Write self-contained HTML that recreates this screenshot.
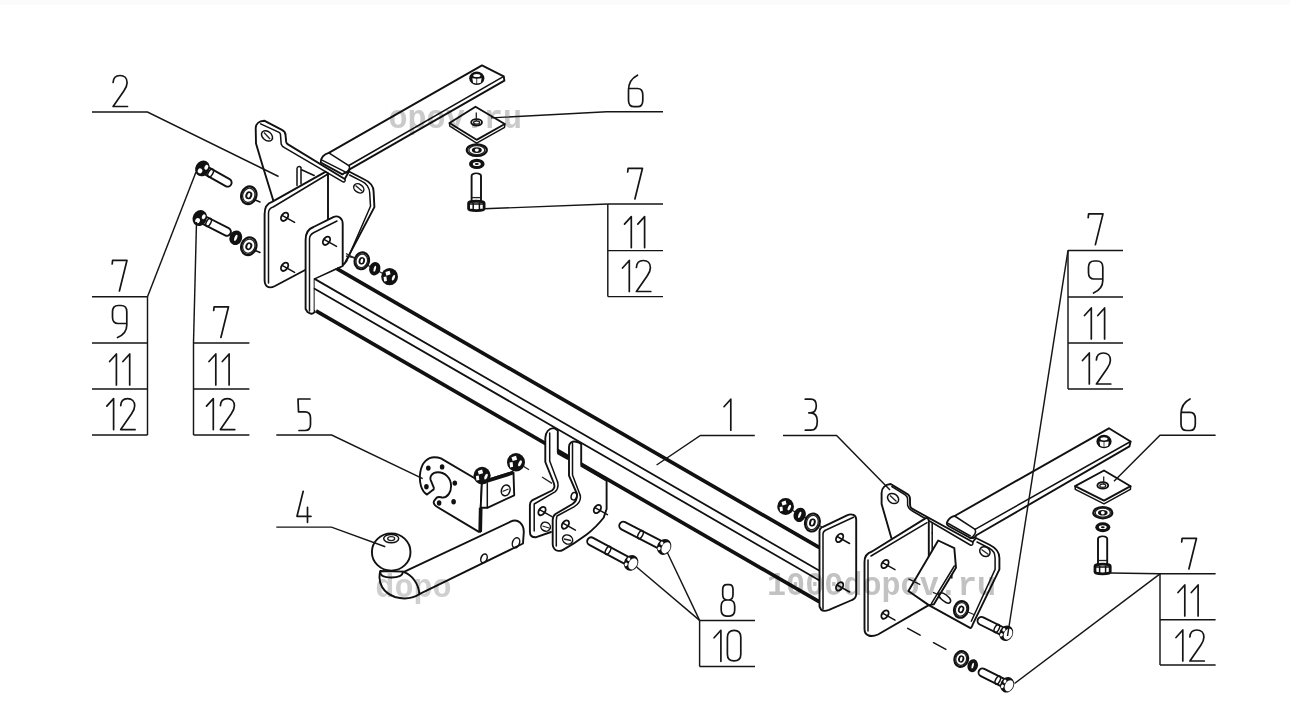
<!DOCTYPE html>
<html><head><meta charset="utf-8"><style>
html,body{margin:0;padding:0;background:#fff;}
body{width:1290px;height:705px;overflow:hidden;position:relative;font-family:"Liberation Sans",sans-serif;}
.top{position:absolute;left:0;top:0;width:1290px;height:5px;background:#fbfbfb;}
svg{position:absolute;left:0;top:0;}
.t{fill:none;stroke:#151515;stroke-width:1.7;stroke-linecap:round;stroke-linejoin:round;}
.l{fill:none;stroke:#151515;stroke-width:1.45;stroke-linejoin:miter;}
.k{fill:none;stroke:#111;stroke-width:1.9;stroke-linejoin:round;stroke-linecap:round;}
.kf{fill:#fff;stroke:#111;stroke-width:1.9;stroke-linejoin:round;stroke-linecap:round;}
.m{fill:none;stroke:#111;stroke-width:1.5;stroke-linejoin:round;stroke-linecap:round;}
.th{fill:none;stroke:#222;stroke-width:1.3;}
.b{stroke-width:2.2;}
.bb{stroke-width:2.8;}
.t18{stroke-width:1.8;}
.wf{fill:#fff;stroke:none;}
.bk{fill:none;stroke:#111;stroke-width:3.7;stroke-linecap:butt;}
.dot{fill:#111;stroke:none;}
.wm{font-family:"Liberation Mono",monospace;font-weight:bold;font-size:34px;fill:#c2c2c2;mix-blend-mode:multiply;}
</style></head><body><div class="top"></div>
<svg width="1290" height="705" viewBox="0 0 1290 705">
<path d="M256,143.4 L255.7,128 C255.7,124 259,121 264.2,120.7 L281.9,129.9 C284,131 285.5,133 285.5,134.9 L286.2,141.9 C286.5,143 287,143.8 287.6,144.1 L344.7,179 L349,171.5 L363.5,179 C369,181.5 373.6,186 373.6,191.5 L374.4,207.1 L344.8,263.2 L343.2,264.7 L273.6,201.5 L262.4,165 Z" class="kf"/>
<path d="M260.6,123.9 L279.1,132.4 C280,133 280.5,134 280.5,134.9 L281.2,144.1 C282,146 283,147 284,147.3 L343,181.8 C344.5,182.3 346,181 344.7,179" class="m"/>
<path d="M349.6,175 L362,181.4 C366,183 369.7,188 369.7,193 L370.5,206.3 L346.4,261.6" class="m"/>
<ellipse cx="267.0" cy="135.9" rx="6.2" ry="4.4" transform="rotate(40 267.0 135.9)" class="m"/>
<path d="M264.0,132.5 L270.0,139.0" class="th"/>
<ellipse cx="358.8" cy="188.4" rx="5.5" ry="4.0" transform="rotate(35 358.8 188.4)" class="m"/>
<path d="M355.5,185.5 L362.0,191.0" class="th"/>
<path d="M297,185.5 L297,168.5 C297.3,166.5 299.5,165.8 301,167.5 L301,184 M301,169.5 L314.2,175.5" class="m"/>
<path d="M264.6,214 C264.6,207 267.5,203.2 272,201.8 L325.4,171.8 L328,173.3 L328,222 L307,269 L275,286 C268,289.5 264.6,286 264.6,280 Z" class="kf"/>
<path d="M268.5,283 L268.5,213 C268.5,210 270,208 273.2,207 L328,174" class="m"/>
<ellipse cx="284.6" cy="216.8" rx="4.6" ry="3.0" transform="rotate(-55 284.6 216.8)" class="k"/>
<path d="M282.1,215.4 L294.6,222.4" class="m"/>
<ellipse cx="284.6" cy="266.8" rx="4.6" ry="3.0" transform="rotate(-55 284.6 266.8)" class="k"/>
<path d="M282.1,265.4 L294.6,272.4" class="m"/>
<path d="M328.8,152.8 L482,65.4 L503.7,76.3 L504.4,80.6 L349.6,169.4 C349,171.5 347,173 344.7,172.7 L342.4,174.4 L320.8,162.5 C320.5,158 324,154 328.8,152.8 Z" class="kf"/>
<path d="M348.9,165.5 L503.7,76.3" class="m"/>
<path d="M328.8,152.8 L349.2,165.9" class="m"/>
<path d="M322.0,160.2 L344.7,171.6" class="m"/>
<path d="M349.2,165.9 C350.5,168.5 348,172 344.7,172.7" class="m"/>
<ellipse cx="476.8" cy="78.2" rx="7.6" ry="6.8" transform="rotate(0 476.8 78.2)" class="dot"/>
<path d="M472.3,78.2 L476.4,78.8 L476.4,83.6 L473.1,82.7 Z" class="wf"/>
<path d="M477.2,78.8 L481.6,78.2 L480.8,82.7 L477.2,83.6 Z" class="wf"/>
<ellipse cx="476.8" cy="75.5" rx="3.6" ry="1.6" transform="rotate(0 476.8 75.5)" class="wf"/>
<path d="M305.6,240 C305.6,232 309,228.5 313.5,227 L333.3,217.1 C338,215 342.7,218 342.7,224 L342.7,266 L336.8,268.8 L314.6,280 L314.6,312 C313,314.5 310,314 307.5,312 L305.6,309 Z" class="kf"/>
<path d="M309.5,311 L309.5,239 C309.5,236 311,234 314,232.5 L337,221" class="m"/>
<ellipse cx="326.5" cy="240.8" rx="4.6" ry="3.0" transform="rotate(-55 326.5 240.8)" class="k"/>
<path d="M324.0,239.4 L336.5,246.4" class="m"/>
<path d="M346.0,253.5 L392.0,278.5" class="th"/>
<ellipse cx="361.8" cy="260.8" rx="7.1" ry="8.5" transform="rotate(15 361.8 260.8)" class="kf b"/>
<ellipse cx="361.8" cy="260.8" rx="5.7" ry="6.8" transform="rotate(15 361.8 260.8)" class="th"/>
<ellipse cx="361.8" cy="260.8" rx="3.2" ry="3.8" transform="rotate(15 361.8 260.8)" class="dot"/>
<ellipse cx="361.8" cy="260.8" rx="1.3" ry="2.3" transform="rotate(15 361.8 260.8)" class="wf"/>
<ellipse cx="374.8" cy="268.7" rx="5.6" ry="6.8" transform="rotate(15 374.8 268.7)" class="dot"/>
<ellipse cx="374.8" cy="268.7" rx="1.1" ry="3.1" transform="rotate(15 374.8 268.7)" class="wf"/>
<ellipse cx="389.6" cy="276.7" rx="8.4" ry="8.6" transform="rotate(0 389.6 276.7)" class="dot"/>
<path d="M385.4,272.1 L389.6,270.7 L390.6,274.3 L386.4,275.7 Z" class="wf"/>
<path d="M383.6,277.1 L386.4,276.5 L386.9,280.9 L384.1,281.6 Z" class="wf"/>
<ellipse cx="393.4" cy="277.7" rx="1.3" ry="3.0" transform="rotate(25 393.4 277.7)" class="wf"/>
<path d="M346.0,256.0 L356.0,258.0" class="th"/>
<path d="M202.6,173.1 L225.6,186.1 A4.0,4.0 0 0 0 229.6,179.1 L206.5,166.1 Z" class="kf"/>
<ellipse cx="210.6" cy="173.0" rx="2.2" ry="4.4" transform="rotate(29.427456403189762 210.6 173.0)" class="m"/>
<ellipse cx="202.4" cy="168.4" rx="7.0" ry="8.2" transform="rotate(29.427456403189762 202.4 168.4)" class="dot"/>
<ellipse cx="200.1" cy="170.9" rx="2.3" ry="2.5" transform="rotate(29.427456403189762 200.1 170.9)" class="wf"/>
<ellipse cx="206.3" cy="167.3" rx="1.8" ry="2.5" transform="rotate(29.427456403189762 206.3 167.3)" class="wf"/>
<path d="M200.2,222.7 L225.1,235.3 A4.0,4.0 0 0 0 228.7,228.1 L203.8,215.5 Z" class="kf"/>
<ellipse cx="208.6" cy="222.4" rx="2.2" ry="4.4" transform="rotate(26.878139752098672 208.6 222.4)" class="m"/>
<ellipse cx="199.8" cy="218.0" rx="7.0" ry="8.2" transform="rotate(26.878139752098672 199.8 218.0)" class="dot"/>
<ellipse cx="197.6" cy="220.6" rx="2.3" ry="2.5" transform="rotate(26.878139752098672 197.6 220.6)" class="wf"/>
<ellipse cx="203.7" cy="216.7" rx="1.8" ry="2.5" transform="rotate(26.878139752098672 203.7 216.7)" class="wf"/>
<ellipse cx="248.8" cy="195.3" rx="7.5" ry="9.0" transform="rotate(20 248.8 195.3)" class="kf b"/>
<ellipse cx="248.8" cy="195.3" rx="6.0" ry="7.2" transform="rotate(20 248.8 195.3)" class="th"/>
<ellipse cx="248.8" cy="195.3" rx="3.4" ry="4.0" transform="rotate(20 248.8 195.3)" class="dot"/>
<ellipse cx="248.8" cy="195.3" rx="1.4" ry="2.4" transform="rotate(20 248.8 195.3)" class="wf"/>
<path d="M254.0,199.5 L260.0,202.0" class="m"/>
<ellipse cx="235.8" cy="237.8" rx="6.3" ry="7.4" transform="rotate(20 235.8 237.8)" class="dot"/>
<ellipse cx="235.8" cy="237.8" rx="1.3" ry="3.3" transform="rotate(20 235.8 237.8)" class="wf"/>
<ellipse cx="248.8" cy="246.2" rx="7.5" ry="9.0" transform="rotate(20 248.8 246.2)" class="kf b"/>
<ellipse cx="248.8" cy="246.2" rx="6.0" ry="7.2" transform="rotate(20 248.8 246.2)" class="th"/>
<ellipse cx="248.8" cy="246.2" rx="3.4" ry="4.0" transform="rotate(20 248.8 246.2)" class="dot"/>
<ellipse cx="248.8" cy="246.2" rx="1.4" ry="2.4" transform="rotate(20 248.8 246.2)" class="wf"/>
<path d="M254.0,250.0 L260.0,252.5" class="m"/>
<path d="M449.5,123.0 L475.5,106.7 L504.8,124.0 L476.6,139.8 Z" class="kf"/>
<path d="M449.5,123.0 L449.8,126.2 L476.6,143.2 L504.6,127.3 L504.8,124.0" class="m"/>
<ellipse cx="476.6" cy="122.3" rx="5.4" ry="3.2" transform="rotate(0 476.6 122.3)" class="k"/>
<ellipse cx="476.6" cy="122.6" rx="3.0" ry="1.6" transform="rotate(0 476.6 122.6)" class="th"/>
<path d="M476.3,112.5 L476.3,121.0" class="th"/>
<ellipse cx="476.8" cy="150.1" rx="10.0" ry="5.8" transform="rotate(0 476.8 150.1)" class="kf b"/>
<ellipse cx="476.8" cy="150.1" rx="8.0" ry="4.6" transform="rotate(0 476.8 150.1)" class="th"/>
<ellipse cx="476.8" cy="150.1" rx="5.0" ry="2.9" transform="rotate(0 476.8 150.1)" class="dot"/>
<ellipse cx="476.8" cy="150.1" rx="2.0" ry="1.7" transform="rotate(0 476.8 150.1)" class="wf"/>
<ellipse cx="476.8" cy="163.9" rx="7.8" ry="5.2" transform="rotate(0 476.8 163.9)" class="dot"/>
<ellipse cx="476.8" cy="163.9" rx="4.0" ry="2.0" transform="rotate(0 476.8 163.9)" class="wf"/>
<ellipse cx="476.8" cy="163.9" rx="2.0" ry="1.0" transform="rotate(0 476.8 163.9)" class="dot"/>
<path d="M471.6,176.0 C471.6,172.5 481.0,172.5 481.0,176.0 L481.0,201.6 L471.6,201.6 Z" class="kf"/>
<ellipse cx="476.3" cy="175.7" rx="2.8" ry="1.5" transform="rotate(0 476.3 175.7)" class="wf"/>
<path d="M471.6,197.6 L481.0,197.6" class="th"/>
<path d="M468.6,203.1 C468.6,200.6 484.1,200.6 484.1,203.1 L484.1,208.8 C484.1,211.3 468.6,211.3 468.6,208.8 Z" class="kf bb"/>
<path d="M473.2,203.6 L473.2,210.3" class="m"/>
<path d="M479.4,203.6 L479.4,210.3" class="m"/>
<path d="M468.6,204.1 L484.1,204.1" class="m"/>
<path d="M314.6,278.9 L336.8,268.7 L819.5,547.7 L819.5,601.9 L314.6,310.1 Z" class="wf"/>
<path d="M314.6,278.9 L336.8,268.7" class="m"/>
<path d="M336.8,268.7 L819.5,547.7" class="bk"/>
<path d="M314.6,278.9 L819.5,570.7" class="m t18"/>
<path d="M314.6,288.7 L819.5,580.5" class="m t18"/>
<path d="M316.0,310.9 L819.5,601.9" class="bk"/>
<path d="M545.3,438.3 C545.3,432 549,428.5 553.1,428.1 C555,428.3 556.5,429.5 557.8,430.5 L557.8,452.3 L550,462 L557.6,482 C558.5,486 558,489.5 555,491.8 L551,520 L549.1,532.4 L535.6,537.3 C532,537.3 529.9,535 529.9,531.7 L529.9,505 C529.9,503 530.5,501.5 532,500.4 L552,490.5 C555,488 555,486 553.4,482 L545.3,462 Z" class="wf"/>
<path d="M557.8,452.3 L557.8,430.5 C556.5,429.5 555,428.3 553.1,428.1 C549,428.5 545.3,432 545.3,438.3 L545.3,462 L553.4,482 C555,486 555,488 552,490.5 L532,500.4 C530.5,501.5 529.9,503 529.9,505 L529.9,531.7 C529.9,535 532,537.3 535.6,537.3 L551,532" class="k"/>
<path d="M549.7,433.0 L549.7,461.0 L557.6,482.0" class="m"/>
<path d="M557.6,482 C558.5,486 558,489.5 555,491.8 L534.2,504 L534.2,531" class="m"/>
<ellipse cx="542.0" cy="511.1" rx="4.6" ry="3.0" transform="rotate(-55 542.0 511.1)" class="k"/>
<path d="M539.5,509.7 L552.0,516.7" class="m"/>
<ellipse cx="545.6" cy="526.7" rx="4.8" ry="4.4" transform="rotate(30 545.6 526.7)" class="m"/>
<path d="M542.5,526.0 L549.0,528.0" class="th"/>
<path d="M569,447 C569,443 572,441 576,441.7 C578.5,442 580.3,443 581.2,444 L581.2,465 L606.6,480.5 L606.6,509 C605,514 604,516 603.8,517.5 C597,526 590,532 586.7,534.5 C578,541 570,546 562.6,550.1 C560,551.5 556,551 554.5,549 C553,547 552.7,546 552.7,544.4 L552.7,520 C552.7,517 553.8,515.3 555.5,514 L572.5,504 C576,501.5 577.5,498 576.8,493.5 L569,475.6 Z" class="kf"/>
<path d="M572.5,443.5 L572.5,475.0 L580.3,495.5" class="m"/>
<path d="M580.3,495.5 C581,500 579,504 574,506.8 L557,516 C556.5,517.5 556.3,519 556.3,521 L556.3,546" class="m"/>
<ellipse cx="574.0" cy="496.2" rx="2.8" ry="3.8" transform="rotate(15 574.0 496.2)" class="m"/>
<ellipse cx="565.4" cy="524.6" rx="4.6" ry="3.0" transform="rotate(-55 565.4 524.6)" class="k"/>
<path d="M562.9,523.2 L575.4,530.2" class="m"/>
<ellipse cx="567.6" cy="539.5" rx="5.2" ry="4.4" transform="rotate(30 567.6 539.5)" class="m"/>
<path d="M564.0,539.0 L571.0,540.5" class="th"/>
<ellipse cx="597.4" cy="509.0" rx="4.6" ry="3.0" transform="rotate(-55 597.4 509.0)" class="k"/>
<path d="M594.9,507.6 L607.4,514.6" class="m"/>
<path d="M557.8,452.3 L568.5,458.4" class="bk"/>
<path d="M581.2,465.0 L606.6,479.7" class="bk"/>
<path d="M542.0,477.0 L552.0,483.4" class="th"/>
<path d="M663.8,542.2 L625.1,522.2 A4.0,4.0 0 0 0 621.4,529.3 L660.1,549.3 Z" class="kf"/>
<ellipse cx="640.5" cy="534.6" rx="2.2" ry="4.4" transform="rotate(-152.5885353564102 640.5 534.6)" class="m"/>
<ellipse cx="664.1" cy="546.9" rx="7.0" ry="8.2" transform="rotate(-152.5885353564102 664.1 546.9)" class="dot"/>
<ellipse cx="665.9" cy="547.8" rx="4.1" ry="5.9" transform="rotate(-152.5885353564102 665.9 547.8)" class="wf"/>
<ellipse cx="659.1" cy="548.5" rx="1.5" ry="1.8" transform="rotate(-152.5885353564102 659.1 548.5)" class="wf"/>
<ellipse cx="661.8" cy="543.4" rx="1.5" ry="1.8" transform="rotate(-152.5885353564102 661.8 543.4)" class="wf"/>
<path d="M630.8,558.2 L593.1,537.8 A4.0,4.0 0 0 0 589.3,544.9 L627.0,565.2 Z" class="kf"/>
<ellipse cx="608.0" cy="550.4" rx="2.2" ry="4.4" transform="rotate(-151.6098339540885 608.0 550.4)" class="m"/>
<ellipse cx="631.1" cy="562.9" rx="7.0" ry="8.2" transform="rotate(-151.6098339540885 631.1 562.9)" class="dot"/>
<ellipse cx="632.9" cy="563.9" rx="4.1" ry="5.9" transform="rotate(-151.6098339540885 632.9 563.9)" class="wf"/>
<ellipse cx="626.1" cy="564.4" rx="1.5" ry="1.8" transform="rotate(-151.6098339540885 626.1 564.4)" class="wf"/>
<ellipse cx="628.8" cy="559.3" rx="1.5" ry="1.8" transform="rotate(-151.6098339540885 628.8 559.3)" class="wf"/>
<path d="M421,486 C419.5,481 419.8,475 420.4,471.7 C422,462 428,457.2 434.3,457.2 C437,457.2 439,457.6 440.9,458.4 L481.9,482.5 L480.7,507.8 L480.2,531.9 L478.9,531.9 L436.5,506.5 C434,505 433,502.5 434.3,500.6 L436.7,497.6 C439,496 441,497.6 442.7,497.6 C448,497 451.1,492 451.1,486.1 C451.1,478 445,472.3 437.9,472.3 C432,472.3 429.5,476.5 430.7,480.1 L433.7,487.3 C434,489 433.5,490 433.1,489.8 L427,494.6 C424.5,493 422,489.5 421,486 Z" class="kf"/>
<ellipse cx="428.3" cy="468.1" rx="2.3" ry="2.7" transform="rotate(0 428.3 468.1)" class="dot"/>
<ellipse cx="442.1" cy="466.9" rx="2.3" ry="2.7" transform="rotate(0 442.1 466.9)" class="dot"/>
<ellipse cx="454.8" cy="483.1" rx="2.3" ry="2.7" transform="rotate(0 454.8 483.1)" class="dot"/>
<ellipse cx="453.6" cy="501.8" rx="2.3" ry="2.7" transform="rotate(0 453.6 501.8)" class="dot"/>
<ellipse cx="439.1" cy="503.0" rx="2.3" ry="2.7" transform="rotate(0 439.1 503.0)" class="dot"/>
<ellipse cx="426.4" cy="486.7" rx="2.3" ry="2.7" transform="rotate(0 426.4 486.7)" class="dot"/>
<path d="M481.9,482.5 L513.5,472.6" class="bk"/>
<path d="M481.9,482.5 L513.5,472.6 L514.2,495.3 L487.3,507.8 L480.7,507.8 Z" class="kf"/>
<path d="M481.9,482.5 L513.5,472.6" class="bk"/>
<path d="M487.3,483.0 L487.3,507.8" class="m"/>
<path d="M480.7,507.8 L480.2,531.9" class="bk"/>
<ellipse cx="505.7" cy="490.4" rx="4.2" ry="5.5" transform="rotate(20 505.7 490.4)" class="m"/>
<path d="M502.5,491.5 L508.5,489.0" class="th"/>
<ellipse cx="482.1" cy="475.6" rx="8.6" ry="8.8" transform="rotate(0 482.1 475.6)" class="dot"/>
<path d="M477.8,470.9 L482.1,469.4 L483.1,473.2 L478.8,474.6 Z" class="wf"/>
<path d="M475.9,476.0 L478.8,475.4 L479.3,479.9 L476.4,480.6 Z" class="wf"/>
<ellipse cx="486.0" cy="476.6" rx="1.4" ry="3.1" transform="rotate(25 486.0 476.6)" class="wf"/>
<ellipse cx="516.0" cy="462.2" rx="9.0" ry="9.2" transform="rotate(0 516.0 462.2)" class="dot"/>
<path d="M511.5,457.2 L516.0,455.7 L517.1,459.7 L512.6,461.1 Z" class="wf"/>
<path d="M509.5,462.6 L512.6,462.0 L513.1,466.7 L510.1,467.4 Z" class="wf"/>
<ellipse cx="520.0" cy="463.3" rx="1.4" ry="3.2" transform="rotate(25 520.0 463.3)" class="wf"/>
<path d="M523.0,466.0 L529.0,469.8" class="th"/>
<path d="M404.5,571.6 L510.5,521.7 C518,518 523.8,524 523.8,532 L523,543.5 L419.3,594.2 C410,600 402,599 395,597 C384,593 377,584 380.3,571 Z" class="kf"/>
<path d="M404.5,572.4 C412,575 419,584 419.3,594.2" class="k"/>
<ellipse cx="484.0" cy="558.4" rx="3.0" ry="4.6" transform="rotate(20 484.0 558.4)" class="m"/>
<ellipse cx="516.0" cy="542.8" rx="3.5" ry="5.2" transform="rotate(20 516.0 542.8)" class="m"/>
<path d="M380.3,571.6 C380,576 384,577.5 391.5,577.5 C398,577.5 403,576 402.9,571.6" class="k"/>
<ellipse cx="391.2" cy="552.0" rx="19.3" ry="18.6" transform="rotate(0 391.2 552.0)" class="kf"/>
<ellipse cx="391.2" cy="538.6" rx="7.5" ry="4.2" transform="rotate(0 391.2 538.6)" class="m"/>
<ellipse cx="391.2" cy="538.6" rx="3.5" ry="2.0" transform="rotate(0 391.2 538.6)" class="th"/>
<path d="M819.5,606.5 L819.5,531.5 C819.5,529 821,527.5 823,526.8 L847,515.3 C851.5,513.3 856.2,514.5 856.2,519.5 L856.2,594 C856.2,597 855,599 852,600 L829,609.8 C825.5,611.2 822.5,611 821,609.5 Z" class="kf"/>
<path d="M823,609 L823,534 C823,532 824.5,530.5 826.5,529.8 L853.5,517.3" class="m"/>
<ellipse cx="839.6" cy="537.9" rx="4.6" ry="3.0" transform="rotate(-55 839.6 537.9)" class="k"/>
<path d="M837.1,536.5 L849.6,543.5" class="m"/>
<ellipse cx="839.6" cy="586.4" rx="4.6" ry="3.0" transform="rotate(-55 839.6 586.4)" class="k"/>
<path d="M837.1,585.0 L849.6,592.0" class="m"/>
<path d="M780.0,503.5 L823.0,527.5" class="th"/>
<ellipse cx="785.6" cy="506.6" rx="8.3" ry="8.5" transform="rotate(0 785.6 506.6)" class="dot"/>
<path d="M781.5,502.0 L785.6,500.6 L786.6,504.3 L782.4,505.6 Z" class="wf"/>
<path d="M779.6,507.0 L782.4,506.4 L782.9,510.8 L780.1,511.4 Z" class="wf"/>
<ellipse cx="789.3" cy="507.6" rx="1.3" ry="3.0" transform="rotate(25 789.3 507.6)" class="wf"/>
<ellipse cx="799.7" cy="514.9" rx="6.0" ry="7.3" transform="rotate(20 799.7 514.9)" class="dot"/>
<ellipse cx="799.7" cy="514.9" rx="1.2" ry="3.3" transform="rotate(20 799.7 514.9)" class="wf"/>
<ellipse cx="812.4" cy="522.5" rx="7.3" ry="9.1" transform="rotate(15 812.4 522.5)" class="kf b"/>
<ellipse cx="812.4" cy="522.5" rx="5.8" ry="7.3" transform="rotate(15 812.4 522.5)" class="th"/>
<ellipse cx="812.4" cy="522.5" rx="3.3" ry="4.1" transform="rotate(15 812.4 522.5)" class="dot"/>
<ellipse cx="812.4" cy="522.5" rx="1.3" ry="2.5" transform="rotate(15 812.4 522.5)" class="wf"/>
<path d="M881.6,504 L881.6,493 C881.6,488 885,484.5 890.7,484 L905.8,493.1 C908.5,494.5 910,496.5 910,498.5 L910,502.7 C910,505 910.5,507.5 911.2,508.2 L972.7,542 L976,538 L990,545 C995,547.5 999.4,552 999.4,558 L999.4,569.4 L973,623.8 C972,627 971,628 970.5,628.1 L928.8,605.1 L891.3,537.7 Z" class="kf"/>
<path d="M891.9,486.5 L905.2,494.9 C906.5,496 907.6,497.5 907.6,499 L907.6,505.2 C908.5,508 910,510 912.4,511 L970.3,545 C972,546 973.5,544 972.7,542" class="m"/>
<path d="M977,542 L989,548 C993,550 995.1,554 995.1,558 L995.1,569.4 L971.3,621.3" class="m"/>
<ellipse cx="893.1" cy="498.5" rx="6.0" ry="4.6" transform="rotate(35 893.1 498.5)" class="m"/>
<path d="M890.0,495.5 L896.5,501.5" class="th"/>
<ellipse cx="984.9" cy="551.6" rx="5.5" ry="4.5" transform="rotate(35 984.9 551.6)" class="m"/>
<path d="M981.5,549.5 L988.5,554.5" class="th"/>
<path d="M932.2,532.9 L932.2,554.1" class="m"/>
<path d="M951.8,566.0 L951.8,578.0" class="m"/>
<path d="M864.5,562 C864.5,556.5 867,553 872,551.5 L925.4,518.4 C927,517.5 928.8,518.5 928.8,521 L928.8,605.1 L878,634.5 C871,637.5 864.5,636 864.5,629 Z" class="kf"/>
<path d="M868.0,560.0 L868.0,631.0" class="m"/>
<path d="M871.0,556.0 L927.0,522.7" class="m"/>
<ellipse cx="885.0" cy="564.0" rx="4.6" ry="3.0" transform="rotate(-55 885.0 564.0)" class="k"/>
<path d="M882.5,562.6 L895.0,569.6" class="m"/>
<ellipse cx="885.0" cy="614.6" rx="4.6" ry="3.0" transform="rotate(-55 885.0 614.6)" class="k"/>
<path d="M882.5,613.2 L895.0,620.2" class="m"/>
<path d="M932.2,523.5 L932.2,532.9" class="m"/>
<path d="M908.4,591 L938.2,540.5 L954.3,548.2 L956,567.7 L933.9,604.3 L928.8,605.1 Z" class="kf"/>
<path d="M954.3,566.0 L931.5,603.4" class="m"/>
<path d="M938.5,594 C941,591 946,594 949.5,598 C952,601.5 950,604.5 946,602.5 C943,601 938,597 938.5,594 Z" class="m"/>
<path d="M908.4,578.8 L920.3,584.7" class="th"/>
<path d="M933.0,592.4 L939.0,595.0" class="th"/>
<path d="M954.6,516 L1108.9,428.3 L1130.6,441.5 L1129.4,446.4 L976.3,535.3 C975.5,537 973.5,538.5 970.3,538 L948.5,526 C946.5,525 946.5,523 947.4,521.5 C949,518.5 951.5,516.5 954.6,516 Z" class="kf"/>
<path d="M975.1,529.3 L1130.6,441.5" class="m"/>
<path d="M954.6,516.0 L975.1,529.3" class="m"/>
<path d="M948.2,523.5 L970.3,536.0" class="m"/>
<path d="M975.1,529.3 C976.5,532 974.5,536.5 970.3,538" class="m"/>
<ellipse cx="1104.0" cy="441.5" rx="7.6" ry="6.8" transform="rotate(0 1104.0 441.5)" class="dot"/>
<path d="M1099.5,441.5 L1103.6,442.1 L1103.6,446.9 L1100.3,446.0 Z" class="wf"/>
<path d="M1104.4,442.1 L1108.8,441.5 L1108.0,446.0 L1104.4,446.9 Z" class="wf"/>
<ellipse cx="1104.0" cy="438.8" rx="3.6" ry="1.6" transform="rotate(0 1104.0 438.8)" class="wf"/>
<ellipse cx="961.1" cy="609.4" rx="7.0" ry="8.5" transform="rotate(20 961.1 609.4)" class="kf b"/>
<ellipse cx="961.1" cy="609.4" rx="5.6" ry="6.8" transform="rotate(20 961.1 609.4)" class="th"/>
<ellipse cx="961.1" cy="609.4" rx="3.1" ry="3.8" transform="rotate(20 961.1 609.4)" class="dot"/>
<ellipse cx="961.1" cy="609.4" rx="1.3" ry="2.3" transform="rotate(20 961.1 609.4)" class="wf"/>
<path d="M968.0,612.0 L975.0,615.0" class="th"/>
<path d="M1005.8,628.5 L983.3,617.3 A4.0,4.0 0 0 0 979.8,624.5 L1002.3,635.7 Z" class="kf"/>
<ellipse cx="996.8" cy="628.5" rx="2.2" ry="4.4" transform="rotate(-153.4349488229219 996.8 628.5)" class="m"/>
<ellipse cx="1006.2" cy="633.2" rx="6.8" ry="8.0" transform="rotate(-153.4349488229219 1006.2 633.2)" class="dot"/>
<ellipse cx="1008.0" cy="634.1" rx="4.0" ry="5.8" transform="rotate(-153.4349488229219 1008.0 634.1)" class="wf"/>
<ellipse cx="1001.4" cy="634.8" rx="1.4" ry="1.8" transform="rotate(-153.4349488229219 1001.4 634.8)" class="wf"/>
<ellipse cx="1003.9" cy="629.8" rx="1.4" ry="1.8" transform="rotate(-153.4349488229219 1003.9 629.8)" class="wf"/>
<ellipse cx="961.2" cy="659.0" rx="6.8" ry="8.0" transform="rotate(15 961.2 659.0)" class="kf b"/>
<ellipse cx="961.2" cy="659.0" rx="5.4" ry="6.4" transform="rotate(15 961.2 659.0)" class="th"/>
<ellipse cx="961.2" cy="659.0" rx="3.1" ry="3.6" transform="rotate(15 961.2 659.0)" class="dot"/>
<ellipse cx="961.2" cy="659.0" rx="1.2" ry="2.2" transform="rotate(15 961.2 659.0)" class="wf"/>
<ellipse cx="972.7" cy="665.7" rx="5.2" ry="6.6" transform="rotate(15 972.7 665.7)" class="dot"/>
<ellipse cx="972.7" cy="665.7" rx="1.0" ry="3.0" transform="rotate(15 972.7 665.7)" class="wf"/>
<path d="M1006.8,680.1 L984.3,668.9 A4.0,4.0 0 0 0 980.8,676.1 L1003.3,687.3 Z" class="kf"/>
<ellipse cx="997.8" cy="680.1" rx="2.2" ry="4.4" transform="rotate(-153.4349488229221 997.8 680.1)" class="m"/>
<ellipse cx="1007.2" cy="684.8" rx="6.8" ry="8.0" transform="rotate(-153.4349488229221 1007.2 684.8)" class="dot"/>
<ellipse cx="1009.0" cy="685.7" rx="4.0" ry="5.8" transform="rotate(-153.4349488229221 1009.0 685.7)" class="wf"/>
<ellipse cx="1002.4" cy="686.4" rx="1.4" ry="1.8" transform="rotate(-153.4349488229221 1002.4 686.4)" class="wf"/>
<ellipse cx="1004.9" cy="681.4" rx="1.4" ry="1.8" transform="rotate(-153.4349488229221 1004.9 681.4)" class="wf"/>
<path d="M907.7,628.4 L920.1,635.1" class="m"/>
<path d="M933.5,642.7 L945.9,649.4" class="m"/>
<path d="M1075.1,486.2 L1104.0,470.5 L1130.6,486.2 L1104.0,500.6 Z" class="kf"/>
<path d="M1075.1,486.2 L1075.3,489.4 L1104.0,503.8 L1130.4,489.4 L1130.6,486.2" class="m"/>
<ellipse cx="1102.8" cy="485.4" rx="5.4" ry="3.2" transform="rotate(0 1102.8 485.4)" class="k"/>
<ellipse cx="1102.8" cy="485.7" rx="3.0" ry="1.6" transform="rotate(0 1102.8 485.7)" class="th"/>
<path d="M1103.7,476.5 L1103.7,484.0" class="th"/>
<ellipse cx="1102.8" cy="512.7" rx="9.5" ry="5.6" transform="rotate(0 1102.8 512.7)" class="kf b"/>
<ellipse cx="1102.8" cy="512.7" rx="7.6" ry="4.5" transform="rotate(0 1102.8 512.7)" class="th"/>
<ellipse cx="1102.8" cy="512.7" rx="4.8" ry="2.8" transform="rotate(0 1102.8 512.7)" class="dot"/>
<ellipse cx="1102.8" cy="512.7" rx="1.9" ry="1.7" transform="rotate(0 1102.8 512.7)" class="wf"/>
<ellipse cx="1102.8" cy="527.2" rx="7.5" ry="5.0" transform="rotate(0 1102.8 527.2)" class="dot"/>
<ellipse cx="1102.8" cy="527.2" rx="3.9" ry="1.9" transform="rotate(0 1102.8 527.2)" class="wf"/>
<ellipse cx="1102.8" cy="527.2" rx="1.9" ry="1.0" transform="rotate(0 1102.8 527.2)" class="dot"/>
<path d="M1098.0,539.0 C1098.0,535.5 1107.2,535.5 1107.2,539.0 L1107.2,564.5 L1098.0,564.5 Z" class="kf"/>
<ellipse cx="1102.6" cy="538.7" rx="2.8" ry="1.5" transform="rotate(0 1102.6 538.7)" class="wf"/>
<path d="M1098.0,560.5 L1107.2,560.5" class="th"/>
<path d="M1095.0,566.0 C1095.0,563.5 1110.2,563.5 1110.2,566.0 L1110.2,572.0 C1110.2,574.5 1095.0,574.5 1095.0,572.0 Z" class="kf bb"/>
<path d="M1099.6,566.5 L1099.6,573.5" class="m"/>
<path d="M1105.6,566.5 L1105.6,573.5" class="m"/>
<path d="M1095.0,567.0 L1110.2,567.0" class="m"/>
<text x="767" y="595" class="wm" textLength="229" lengthAdjust="spacingAndGlyphs">1000dopov.ru</text>
<clipPath id="c1"><path d="M386,90 L540,90 L540,140 L386,140 Z"/></clipPath>
<text x="293" y="127.5" class="wm" style="fill:#cacaca" textLength="229" lengthAdjust="spacingAndGlyphs" clip-path="url(#c1)">1000dopov.ru</text>
<clipPath id="c2"><path d="M376,565 L452,565 L452,605 L376,605 Z"/></clipPath>
<text x="299" y="597" class="wm" style="fill:#cfcfcf" textLength="229" lengthAdjust="spacingAndGlyphs" clip-path="url(#c2)">1000dopov.ru</text>
<path transform="translate(112.5,75.5) scale(1.000)" d="M0.6,7 C0.8,2.5 3.5,0 7.5,0 C11.8,0 14.6,2.8 14.6,7.2 C14.6,10.5 13.3,12.6 11.5,15.2 L0.6,31 L15,31" class="t"/>
<path d="M92.0,112.0 L147.5,112.0 L278.6,176.5" class="l"/>
<path transform="translate(112.0,260.0) scale(1.000)" d="M0.2,4 L0.6,0.3 L15,0.3 L7.4,31" class="t"/>
<path transform="translate(112.5,305.5) scale(1.000)" d="M14.3,18 L5.5,18 C2,18 0,15.8 0,11.8 L0,6.3 C0,2.3 2,0 5.8,0 L8.5,0 C12.3,0 14.3,2.3 14.3,6.3 L14.3,19.5 C14.3,25.5 11,29.5 5,32" class="t"/>
<path transform="translate(109.6,354.0) scale(1.000)" d="M0,7.5 L6.8,0 L6.8,31" class="t"/>
<path transform="translate(122.9,354.0) scale(1.000)" d="M0,7.5 L6.8,0 L6.8,31" class="t"/>
<path transform="translate(106.8,398.6) scale(1.000)" d="M0,7.5 L6.8,0 L6.8,31" class="t"/>
<path transform="translate(120.1,398.6) scale(1.000)" d="M0.6,7 C0.8,2.5 3.5,0 7.5,0 C11.8,0 14.6,2.8 14.6,7.2 C14.6,10.5 13.3,12.6 11.5,15.2 L0.6,31 L15,31" class="t"/>
<path d="M92.0,296.7 L147.5,296.7" class="l"/>
<path d="M92.0,343.0 L147.5,343.0" class="l"/>
<path d="M92.0,389.0 L147.5,389.0" class="l"/>
<path d="M92.0,435.0 L147.5,435.0" class="l"/>
<path d="M147.5,296.7 L147.5,435.0" class="l"/>
<path d="M147.5,296.7 L196.0,172.0" class="l"/>
<path transform="translate(213.5,306.5) scale(1.000)" d="M0.2,4 L0.6,0.3 L15,0.3 L7.4,31" class="t"/>
<path transform="translate(209.0,354.0) scale(1.000)" d="M0,7.5 L6.8,0 L6.8,31" class="t"/>
<path transform="translate(222.3,354.0) scale(1.000)" d="M0,7.5 L6.8,0 L6.8,31" class="t"/>
<path transform="translate(206.5,398.6) scale(1.000)" d="M0,7.5 L6.8,0 L6.8,31" class="t"/>
<path transform="translate(219.8,398.6) scale(1.000)" d="M0.6,7 C0.8,2.5 3.5,0 7.5,0 C11.8,0 14.6,2.8 14.6,7.2 C14.6,10.5 13.3,12.6 11.5,15.2 L0.6,31 L15,31" class="t"/>
<path d="M193.5,343.0 L249.4,343.0" class="l"/>
<path d="M193.5,389.0 L249.4,389.0" class="l"/>
<path d="M193.5,435.0 L249.4,435.0" class="l"/>
<path d="M193.5,343.0 L193.5,435.0" class="l"/>
<path d="M193.5,343.0 L196.5,222.0" class="l"/>
<path transform="translate(628.5,75.2) scale(1.000)" d="M9,0 C3.5,2.8 0,8 0,15 L0,25 C0,29.3 2.2,31.5 5.8,31.5 L9,31.5 C12.6,31.5 14.3,29.3 14.3,25 L14.3,19.8 C14.3,15.6 12.6,13.3 9,13.3 L0,13.3" class="t"/>
<path d="M491.0,117.9 L606.8,111.7 L663.0,111.7" class="l"/>
<path transform="translate(627.5,168.0) scale(1.000)" d="M0.2,4 L0.6,0.3 L15,0.3 L7.4,31" class="t"/>
<path transform="translate(624.5,216.6) scale(1.000)" d="M0,7.5 L6.8,0 L6.8,31" class="t"/>
<path transform="translate(637.8,216.6) scale(1.000)" d="M0,7.5 L6.8,0 L6.8,31" class="t"/>
<path transform="translate(622.5,260.5) scale(1.000)" d="M0,7.5 L6.8,0 L6.8,31" class="t"/>
<path transform="translate(635.8,260.5) scale(1.000)" d="M0.6,7 C0.8,2.5 3.5,0 7.5,0 C11.8,0 14.6,2.8 14.6,7.2 C14.6,10.5 13.3,12.6 11.5,15.2 L0.6,31 L15,31" class="t"/>
<path d="M607.8,204.0 L663.0,204.0" class="l"/>
<path d="M607.8,250.6 L663.0,250.6" class="l"/>
<path d="M607.8,296.6 L663.0,296.6" class="l"/>
<path d="M607.8,204.0 L607.8,296.6" class="l"/>
<path d="M607.8,204.0 L484.0,208.8" class="l"/>
<path transform="translate(1088.0,213.6) scale(1.000)" d="M0.2,4 L0.6,0.3 L15,0.3 L7.4,31" class="t"/>
<path transform="translate(1088.5,261.0) scale(1.000)" d="M14.3,18 L5.5,18 C2,18 0,15.8 0,11.8 L0,6.3 C0,2.3 2,0 5.8,0 L8.5,0 C12.3,0 14.3,2.3 14.3,6.3 L14.3,19.5 C14.3,25.5 11,29.5 5,32" class="t"/>
<path transform="translate(1084.5,308.0) scale(1.000)" d="M0,7.5 L6.8,0 L6.8,31" class="t"/>
<path transform="translate(1097.8,308.0) scale(1.000)" d="M0,7.5 L6.8,0 L6.8,31" class="t"/>
<path transform="translate(1082.5,353.0) scale(1.000)" d="M0,7.5 L6.8,0 L6.8,31" class="t"/>
<path transform="translate(1095.8,353.0) scale(1.000)" d="M0.6,7 C0.8,2.5 3.5,0 7.5,0 C11.8,0 14.6,2.8 14.6,7.2 C14.6,10.5 13.3,12.6 11.5,15.2 L0.6,31 L15,31" class="t"/>
<path d="M1068.0,250.4 L1123.0,250.4" class="l"/>
<path d="M1068.0,297.0 L1123.0,297.0" class="l"/>
<path d="M1068.0,343.0 L1123.0,343.0" class="l"/>
<path d="M1068.0,389.0 L1123.0,389.0" class="l"/>
<path d="M1068.0,250.4 L1068.0,389.0" class="l"/>
<path d="M1068.0,250.4 L1007.5,636.0" class="l"/>
<path transform="translate(1181.0,399.0) scale(1.000)" d="M9,0 C3.5,2.8 0,8 0,15 L0,25 C0,29.3 2.2,31.5 5.8,31.5 L9,31.5 C12.6,31.5 14.3,29.3 14.3,25 L14.3,19.8 C14.3,15.6 12.6,13.3 9,13.3 L0,13.3" class="t"/>
<path d="M1114.0,481.3 L1160.0,435.2 L1215.6,435.2" class="l"/>
<path transform="translate(1181.5,538.0) scale(1.000)" d="M0.2,4 L0.6,0.3 L15,0.3 L7.4,31" class="t"/>
<path transform="translate(1178.0,585.0) scale(1.000)" d="M0,7.5 L6.8,0 L6.8,31" class="t"/>
<path transform="translate(1191.3,585.0) scale(1.000)" d="M0,7.5 L6.8,0 L6.8,31" class="t"/>
<path transform="translate(1176.0,630.0) scale(1.000)" d="M0,7.5 L6.8,0 L6.8,31" class="t"/>
<path transform="translate(1189.3,630.0) scale(1.000)" d="M0.6,7 C0.8,2.5 3.5,0 7.5,0 C11.8,0 14.6,2.8 14.6,7.2 C14.6,10.5 13.3,12.6 11.5,15.2 L0.6,31 L15,31" class="t"/>
<path d="M1160.0,573.8 L1215.6,573.8" class="l"/>
<path d="M1160.0,619.7 L1215.6,619.7" class="l"/>
<path d="M1160.0,665.0 L1215.6,665.0" class="l"/>
<path d="M1160.0,573.8 L1160.0,665.0" class="l"/>
<path d="M1160.0,573.8 L1110.5,573.0" class="l"/>
<path d="M1160.0,573.8 L1014.5,683.5" class="l"/>
<path transform="translate(724.0,399.2) scale(1.000)" d="M0,7.5 L6.8,0 L6.8,31" class="t"/>
<path d="M656.6,465.0 L700.4,435.5 L754.8,435.5" class="l"/>
<path transform="translate(805.3,399.2) scale(1.000)" d="M0,0 L5.5,0 C9.5,0 11,3 11,6.5 C11,10.5 9,13.6 5,13.6 L3.5,13.6 M5,13.6 C9.8,13.6 12,17 12,22 C12,27.5 9.8,31 5.5,31 L0,31" class="t"/>
<path d="M783.0,435.5 L836.6,435.5 L890.0,490.0" class="l"/>
<path transform="translate(721.2,584.6) scale(1.000)" d="M5.5,0 L8,0 C10.5,0 11.8,2 11.8,5 L11.8,10 C11.8,13.3 10.3,15.4 7.5,15.4 L6,15.4 C3,15.4 1.5,13.3 1.5,10 L1.5,5 C1.5,2 3,0 5.5,0 Z M6,15.4 C2.3,15.4 0,17.8 0,21.5 L0,25.5 C0,29.5 2,31.5 5.5,31.5 L8,31.5 C11.5,31.5 13.5,29.5 13.5,25.5 L13.5,21.5 C13.5,17.8 11.2,15.4 7.5,15.4" class="t"/>
<path transform="translate(714.1,630.3) scale(1.000)" d="M0,7.5 L6.8,0 L6.8,31" class="t"/>
<path transform="translate(727.4,630.3) scale(1.000)" d="M6.7,0 C10.8,0 13.4,2.5 13.4,7 L13.4,24 C13.4,28.5 10.8,30.6 6.7,30.6 C2.6,30.6 0,28.5 0,24 L0,7 C0,2.5 2.6,0 6.7,0 Z" class="t"/>
<path d="M699.6,620.4 L755.0,620.4" class="l"/>
<path d="M699.6,666.5 L755.0,666.5" class="l"/>
<path d="M699.6,620.4 L699.6,666.5" class="l"/>
<path d="M699.6,620.4 L636.6,567.0" class="l"/>
<path d="M699.6,620.4 L667.2,552.3" class="l"/>
<path transform="translate(298.0,399.0) scale(1.000)" d="M12,0 L0,0 L0.5,12.9 L7,12.9 C10.5,12.9 12.5,15 12.5,19 L12.5,25.5 C12.5,29.3 10.5,31.5 7,31.5 L1,31.5" class="t"/>
<path d="M276.3,435.0 L331.7,435.0 L422.7,478.7" class="l"/>
<path transform="translate(297.0,491.3) scale(1.000)" d="M6.2,0 L0,25 L14,25 M10.5,16 L10.5,31" class="t"/>
<path d="M276.3,527.1 L331.5,527.1 L385.3,546.8" class="l"/>
</svg></body></html>
